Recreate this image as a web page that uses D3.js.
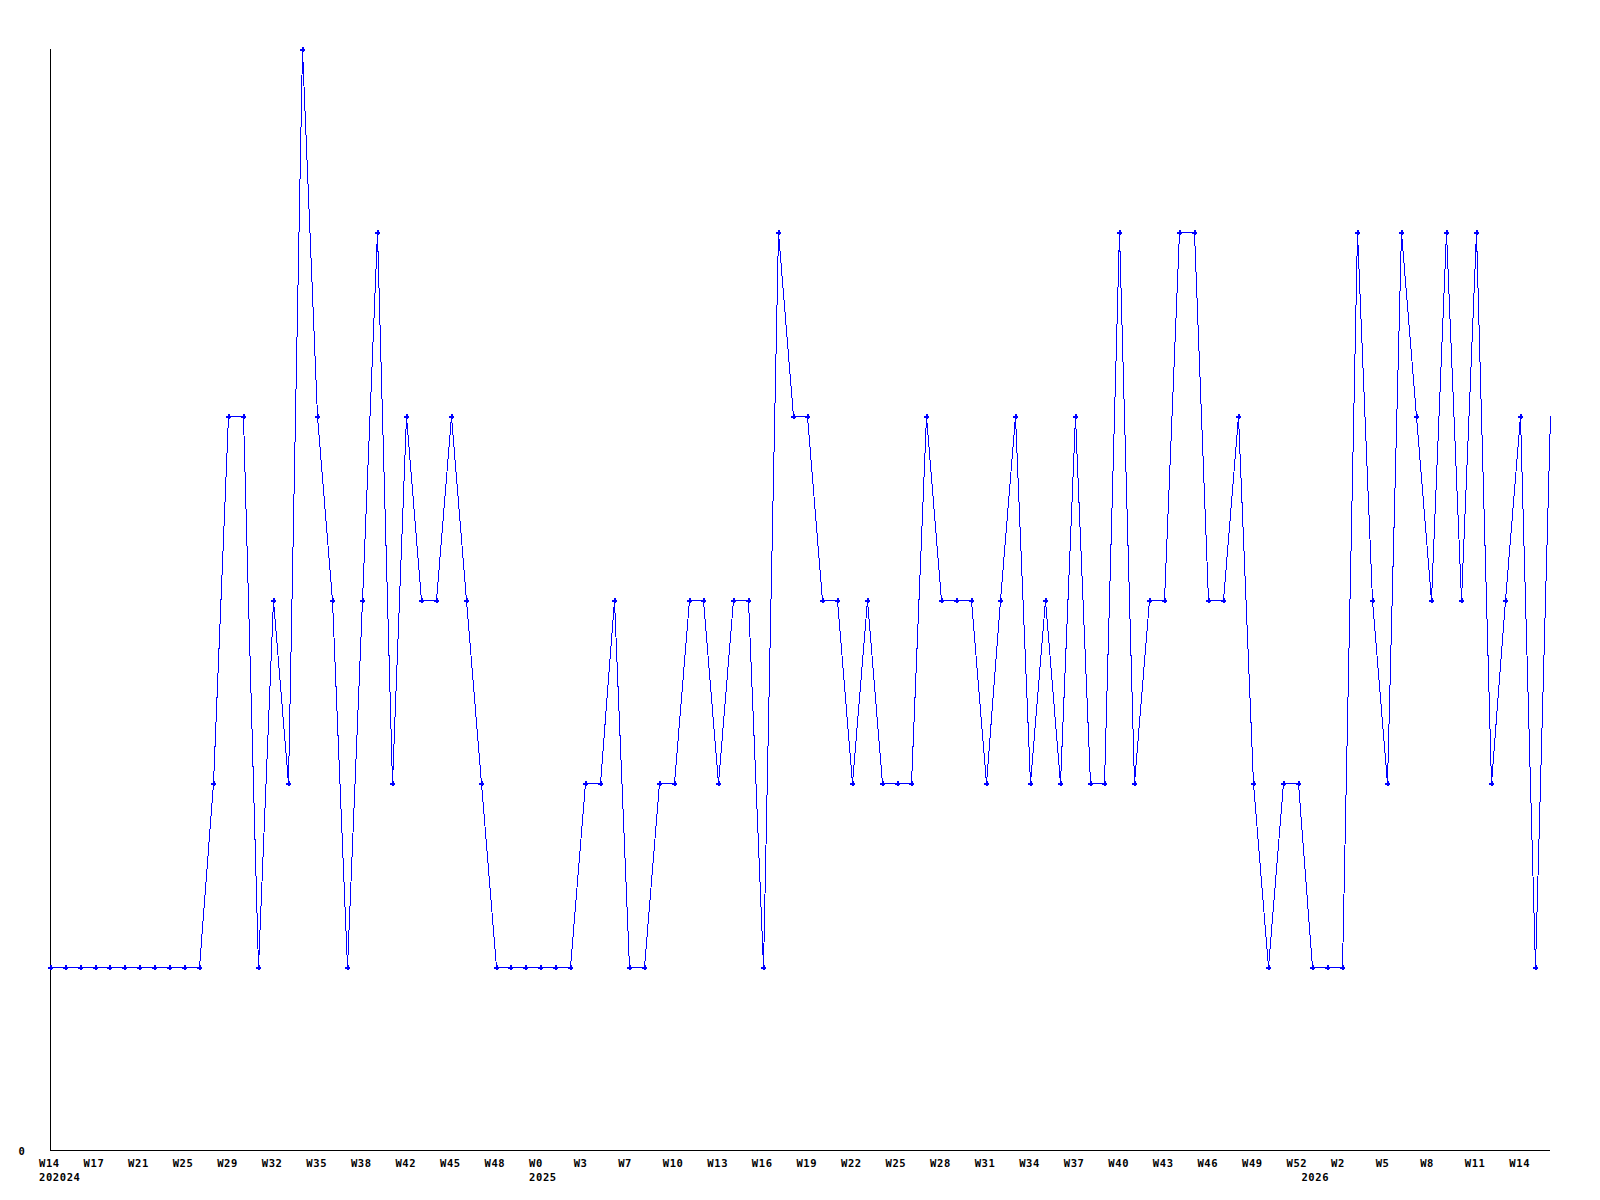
<!DOCTYPE html>
<html>
<head>
<meta charset="utf-8">
<script src="https://cdn.jsdelivr.net/npm/d3@7"></script>
<style>
  body { margin: 0; background: #fff; }
  text { font-family: "DejaVu Sans Mono", monospace; font-weight: bold; font-size: 10.5px; letter-spacing: 0.6px; fill: #000; }
</style>
</head>
<body>
<div id="vis"></div>
<script>
// weekly values, one per point
var values = [
  1, 1, 1, 1, 1, 1, 1, 1, 1, 1, 1, 2, 4, 4, 1, 3, 2, 6, 4, 3,
  1, 3, 5, 2, 4, 3, 3, 4, 3, 2, 1, 1, 1, 1, 1, 1, 2, 2, 3, 1,
  1, 2, 2, 3, 3, 2, 3, 3, 1, 5, 4, 4, 3, 3, 2, 3, 2, 2, 2, 4,
  3, 3, 3, 2, 3, 4, 2, 3, 2, 4, 2, 2, 5, 2, 3, 3, 5, 5, 3, 3,
  4, 2, 1, 2, 2, 1, 1, 1, 5, 3, 2, 5, 4, 3, 5, 3, 5, 2, 3, 4,
  1, 4
];

// week labels, one every third point
var weekLabels = ['W14', 'W17', 'W21', 'W25', 'W29', 'W32', 'W35', 'W38', 'W42', 'W45', 'W48',
  'W0', 'W3', 'W7', 'W10', 'W13', 'W16', 'W19', 'W22', 'W25', 'W28', 'W31', 'W34', 'W37',
  'W40', 'W43', 'W46', 'W49', 'W52', 'W2', 'W5', 'W8', 'W11', 'W14'];
var weekStep = 3;

// year labels and the point they start at
var yearLabels = ['202024', '2025', '2026'];
var yearIndex = [0, 33, 85];

var yTicks = [0];

var width = 1600;
var height = 1200;
var plotLeft = 50, plotRight = 1550, plotTop = 49, plotBottom = 1150;

var svg = d3.select('#vis').append('svg')
  .attr('width', width)
  .attr('height', height);

var x = d3.scaleLinear()
  .domain([0, values.length - 1])
  .range([plotLeft, plotRight]);

var y = d3.scaleLinear()
  .domain([0, d3.max(values)])
  .range([plotBottom, plotTop]);

// axes
svg.append('line')
  .attr('x1', plotLeft + 0.5).attr('x2', plotLeft + 0.5)
  .attr('y1', plotTop).attr('y2', plotBottom + 1)
  .attr('stroke', '#000').attr('shape-rendering', 'crispEdges');
svg.append('line')
  .attr('x1', plotLeft).attr('x2', plotRight)
  .attr('y1', plotBottom + 0.5).attr('y2', plotBottom + 0.5)
  .attr('stroke', '#000').attr('shape-rendering', 'crispEdges');

// y tick label
svg.selectAll('.ylab')
  .data(yTicks)
  .enter().append('text')
  .attr('class', 'ylab')
  .attr('x', 22)
  .attr('y', function (d) { return y(d) + 4.5; })
  .attr('text-anchor', 'middle')
  .text(function (d) { return d; });

// week labels
svg.selectAll('.week')
  .data(weekLabels)
  .enter().append('text')
  .attr('class', 'week')
  .attr('x', function (d, i) { return x(i * weekStep) - 11; })
  .attr('y', 1166.5)
  .text(function (d) { return d; });

// year labels
svg.selectAll('.year')
  .data(yearLabels)
  .enter().append('text')
  .attr('class', 'year')
  .attr('x', function (d, i) { return x(yearIndex[i]) - 11; })
  .attr('y', 1181)
  .text(function (d) { return d; });

// the line
var line = d3.line()
  .x(function (d, i) { return Math.round(x(i)) + 0.5; })
  .y(function (d) { return Math.round(y(d)) + 0.5; });

svg.append('path')
  .datum(values)
  .attr('d', line)
  .attr('fill', 'none')
  .attr('stroke', '#0000ff')
  .attr('stroke-width', 1)
  .attr('shape-rendering', 'crispEdges');

// markers (last point sits on the edge and is not marked)
svg.selectAll('.pt')
  .data(values.slice(0, values.length - 1))
  .enter().append('path')
  .attr('class', 'pt')
  .attr('transform', function (d, i) {
    return 'translate(' + (Math.round(x(i)) + 0.5) + ',' + (Math.round(y(d)) + 0.5) + ')';
  })
  .attr('d', 'M-2.5,0H2.5M0,-2.5V2.5')
  .attr('stroke', '#0000ff')
  .attr('stroke-width', 2)
  .attr('shape-rendering', 'crispEdges');
</script>
</body>
</html>
